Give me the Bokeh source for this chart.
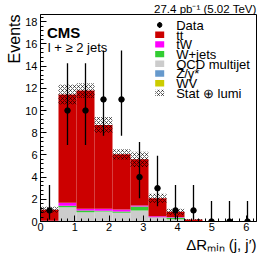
import numpy as np
from bokeh.plotting import figure
from bokeh.models import Label, Range1d, FixedTicker, Title
from bokeh.core.properties import value
from bokeh.embed import file_html
from bokeh.resources import INLINE

# ---------------- data ----------------
bin_edges = [0.0, 0.525, 1.05, 1.575, 2.1, 2.625, 3.15, 3.675, 4.2, 4.725, 5.25, 5.775, 6.3]
data_counts = [1, 10, 10, 11, 11, 4, 3, 1, 1, 0, 0, 0]
data_err_lo = [0.83, 3.11, 3.11, 3.27, 3.27, 1.91, 1.63, 0.83, 0.83, 0.0, 0.0, 0.0]
data_err_hi = [2.30, 4.26, 4.26, 4.42, 4.42, 3.16, 2.92, 2.30, 2.30, 1.84, 1.84, 1.84]

wv     = [0.0, 0.0, 0.0, 0.0, 0.0, 0.0, 0.0, 0.0, 0.0, 0.0, 0.0, 0.0]
zgamma = [0.0, 0.02, 0.01, 0.01, 0.01, 0.01, 0.0, 0.0, 0.0, 0.0, 0.0, 0.0]
qcd    = [0.05, 1.26, 0.83, 0.90, 0.77, 0.98, 0.36, 0.20, 0.0, 0.0, 0.0, 0.0]
wjets  = [0.0, 0.13, 0.15, 0.05, 0.12, 0.36, 0.02, 0.15, 0.0, 0.0, 0.0, 0.0]
tw     = [0.02, 0.27, 0.16, 0.18, 0.18, 0.09, 0.10, 0.05, 0.02, 0.0, 0.0, 0.0]
ttbar  = [0.98, 9.77, 10.65, 7.56, 4.97, 4.16, 1.62, 0.48, 0.16, 0.0, 0.0, 0.0]
stat_lumi_err = [0.27, 0.90, 0.67, 0.72, 0.47, 0.68, 0.40, 0.28, 0.05, 0.0, 0.0, 0.0]

x_ticks = [0, 1, 2, 3, 4, 5, 6]
y_ticks = [0, 2, 4, 6, 8, 10, 12, 14, 16, 18]

series_names = ["WV", "Z/γ*", "QCD multijet", "W+jets", "tW", "tt\u0304"]
series_values = [wv, zgamma, qcd, wjets, tw, ttbar]
series_colors = ["#cccc00", "#6699cc", "#cccccc", "#33cc33", "#ff00ff", "#cc0000"]

# ---------------- layout (page pixels == canvas pixels) ----------------
FONT = "Liberation Sans"
W, H = 266, 254
FR_L, FR_R, FR_T, FR_B = 40, 256, 13, 221   # frame edges
X_MAX = 6.3
PX_X = (FR_R - FR_L) / X_MAX
PX_Y = 11.15
Y_MAX = (FR_B - FR_T) / PX_Y


def dx(px):
    return (px - FR_L) / PX_X


def dy(py):
    return (FR_B - py) / PX_Y


p = figure(width=W, height=H, output_backend="svg", toolbar_location=None,
           x_range=Range1d(0, X_MAX), y_range=Range1d(0, Y_MAX),
           min_border_left=FR_L, min_border_right=W - FR_R,
           min_border_top=FR_T, min_border_bottom=H - FR_B)
p.grid.visible = False
p.outline_line_color = "black"
p.outline_line_width = 1
p.background_fill_color = "white"
p.border_fill_color = "white"

for ax in (p.xaxis[0], p.yaxis[0]):
    ax.axis_line_color = "black"
    ax.major_tick_in = 6
    ax.major_tick_out = 0
    ax.minor_tick_in = 3
    ax.minor_tick_out = 0
    ax.major_tick_line_color = "black"
    ax.minor_tick_line_color = "black"
    ax.major_label_text_font = FONT
    ax.major_label_text_font_size = "11px"
    ax.major_label_text_color = "black"
p.xaxis[0].ticker = FixedTicker(ticks=x_ticks,
                                minor_ticks=list(np.round(np.arange(0, X_MAX + 1e-9, 0.2), 3)))
p.yaxis[0].ticker = FixedTicker(ticks=y_ticks,
                                minor_ticks=list(np.round(np.arange(0, Y_MAX, 0.4), 3)))
p.xaxis[0].major_label_standoff = 1
p.yaxis[0].major_label_standoff = 3

# ---------------- titles (outside the frame) ----------------
p.add_layout(Title(text="27.4 pb⁻¹ (5.02 TeV)", align="right", text_font=FONT,
                   text_font_size="11.5px", text_font_style="normal", text_color="black",
                   standoff=0, offset=0), "above")
p.add_layout(Title(text="ΔRₘᵢₙ (j, j′)", align="right", text_font=FONT,
                   text_font_size="15px", text_font_style="normal", text_color="black",
                   standoff=0, offset=0), "below")
p.add_layout(Title(text="Events", align="right", text_font=FONT,
                   text_font_size="16px", text_font_style="normal", text_color="black",
                   standoff=0, offset=0), "left")

# ---------------- stack ----------------
edges = np.array(bin_edges)
left, right = edges[:-1], edges[1:]
centers = 0.5 * (left + right)
bottom = np.zeros(len(centers))
for name, vals, col in zip(series_names, series_values, series_colors):
    v = np.array(vals)
    top = bottom + v
    p.quad(left=left, right=right, bottom=bottom, top=top,
           fill_color=col, line_color=None)
    bottom = top
total = bottom

err = np.array(stat_lumi_err)
p.quad(left=left, right=right, bottom=total - err, top=total + err,
       fill_alpha=0, line_color=None, hatch_pattern="diagonal_cross",
       hatch_color="black", hatch_scale=4, hatch_weight=0.6)

# ---------------- data ----------------
dc = np.array(data_counts, dtype=float)
p.segment(x0=centers, y0=dc - np.array(data_err_lo), x1=centers,
          y1=dc + np.array(data_err_hi), line_color="black", line_width=1.3)
p.scatter(x=centers, y=dc, size=5.5, marker="circle", color="black")

# ---------------- legend (manual) ----------------
rows = [23.5, 33.3, 43.0, 52.8, 62.5, 72.3, 82.1, 91.8]
sw_l, sw_r, txt_x = 154.7, 163.7, 175.7
leg_labels = ["Data", "tt\u0304", "tW", "W+jets", "QCD multijet", "Z/γ*", "WV", "Stat ⊕ lumi"]
leg_colors = series_colors[::-1]
p.segment(x0=[dx(159.2)], y0=[dy(rows[0] + 3)], x1=[dx(159.2)], y1=[dy(rows[0] - 3)],
          line_color="black", line_width=1.2)
p.scatter(x=[dx(159.2)], y=[dy(rows[0])], size=4.5, marker="circle", color="black")
for r, col in zip(rows[1:7], leg_colors):
    p.quad(left=[dx(sw_l)], right=[dx(sw_r)], bottom=[dy(r + 3.2)], top=[dy(r - 3.2)],
           fill_color=col, line_color=None)
p.quad(left=[dx(sw_l)], right=[dx(sw_r)], bottom=[dy(rows[7] + 3.2)], top=[dy(rows[7] - 3.2)],
       fill_alpha=0, line_color=None, hatch_pattern="diagonal_cross",
       hatch_color="black", hatch_scale=4, hatch_weight=0.6)
p.text(x=[dx(txt_x)] * len(rows), y=[dy(r + 0.3) for r in rows], text=leg_labels,
       text_font=value(FONT), text_font_size="13px", text_baseline="middle",
       text_align="left", text_color="black")


# ---------------- texts inside the frame ----------------
def add_label(text, px, py, size, align="left", baseline="alphabetic", bold=False):
    p.add_layout(Label(x=dx(px), y=dy(py), text=text, text_font=FONT,
                       text_font_size=size, text_align=align, text_baseline=baseline,
                       text_font_style="bold" if bold else "normal",
                       text_color="black"))


add_label("CMS", 46.5, 30.8, "15px", bold=True)
add_label("l + ≥ 2 jets", 47.3, 46.5, "13px")

open("out.html", "w").write(file_html(p, INLINE))
